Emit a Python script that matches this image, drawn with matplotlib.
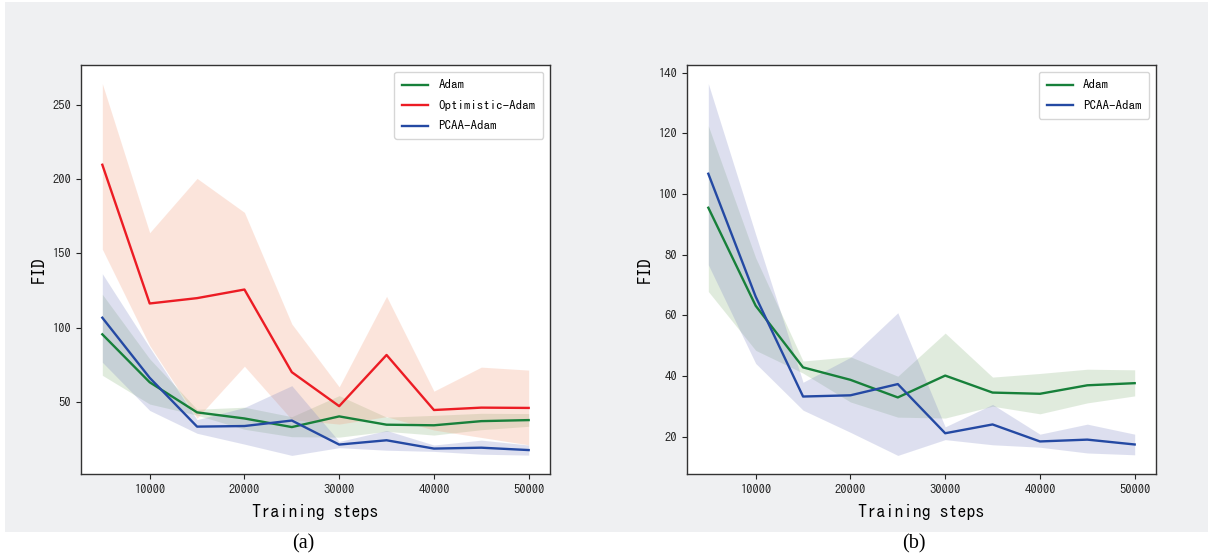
import matplotlib
matplotlib.use("Agg")
import matplotlib.pyplot as plt
from matplotlib.patches import Rectangle

plt.rcParams["font.family"] = ["IPAGothic", "DejaVu Sans"]

# training steps
steps = [5000, 10000, 15000, 20000, 25000, 30000, 35000, 40000, 45000, 50000]

# Adam
adam_mean = [95.5, 63.2, 42.9, 38.8, 33.0, 40.2, 34.6, 34.2, 37.0, 37.7]
adam_upper = [122.5, 79.0, 45.0, 46.4, 40.0, 54.2, 39.7, 40.9, 42.3, 42.1]
adam_lower = [67.9, 48.5, 41.0, 31.5, 26.5, 26.2, 30.1, 27.6, 31.2, 33.5]

# Optimistic-Adam (only in panel a)
opt_mean = [209.8, 116.3, 119.9, 125.7, 70.0, 47.1, 81.6, 44.5, 46.1, 45.9]
opt_upper = [264.5, 164.0, 200.6, 177.7, 102.5, 60.1, 121.1, 57.2, 73.4, 71.4]
opt_lower = [152.9, 88.0, 39.0, 74.0, 38.0, 35.0, 40.0, 31.0, 26.0, 21.0]

# PCAA-Adam
pcaa_mean = [106.7, 66.2, 33.3, 33.7, 37.4, 21.2, 24.1, 18.5, 19.1, 17.5]
pcaa_upper = [136.4, 86.7, 38.0, 46.2, 60.9, 23.3, 30.7, 20.9, 24.2, 20.9]
pcaa_lower = [76.7, 44.2, 28.8, 21.5, 13.9, 19.1, 17.4, 16.6, 14.7, 14.1]

c_adam, c_opt, c_pcaa = "#17803a", "#ec1c24", "#2449a3"
f_adam, f_opt, f_pcaa = "#87b37b", "#f39773", "#7b83c3"

W, H = 1213, 558
fig = plt.figure(figsize=(W / 100, H / 100), dpi=100, facecolor="white")
fig.patches.append(Rectangle((5 / W, 1 - 532 / H), 1203 / W, 530 / H,
                             transform=fig.transFigure, facecolor="#eff0f2",
                             edgecolor="none", zorder=-10))


def panel(ax, series):
    for mean, lo, hi, c, fc, name in series:
        ax.fill_between(steps, lo, hi, color=fc, alpha=0.25, linewidth=0)
    for mean, lo, hi, c, fc, name in series:
        ax.plot(steps, mean, color=c, lw=1.7, label=name)
    ax.set_xticks([10000, 20000, 30000, 40000, 50000])
    ax.tick_params(labelsize=9, colors="#222222")
    ax.set_xlabel("Training steps", fontsize=13, labelpad=7)
    ax.set_ylabel("FID", fontsize=13)
    for s in ax.spines.values():
        s.set_color("#333333")
        s.set_linewidth(1.0)
    ax.legend(loc="upper right", fontsize=9.4, framealpha=0.8, fancybox=True,
              labelspacing=0.72, borderpad=0.6)


ax1 = fig.add_axes([81 / W, 1 - 474 / H, 469 / W, 409 / H])
panel(ax1, [
    (adam_mean, adam_lower, adam_upper, c_adam, f_adam, "Adam"),
    (opt_mean, opt_lower, opt_upper, c_opt, f_opt, "Optimistic-Adam"),
    (pcaa_mean, pcaa_lower, pcaa_upper, c_pcaa, f_pcaa, "PCAA-Adam"),
])

ax2 = fig.add_axes([687 / W, 1 - 474 / H, 469 / W, 409 / H])
panel(ax2, [
    (adam_mean, adam_lower, adam_upper, c_adam, f_adam, "Adam"),
    (pcaa_mean, pcaa_lower, pcaa_upper, c_pcaa, f_pcaa, "PCAA-Adam"),
])

fig.text(303 / W, 1 - 544 / H, "(a)", ha="center", va="center",
         family="Liberation Serif", fontsize=14.5)
fig.text(914 / W, 1 - 544 / H, "(b)", ha="center", va="center",
         family="Liberation Serif", fontsize=14.5)

fig.savefig("out.png", dpi=100, facecolor=fig.get_facecolor())
